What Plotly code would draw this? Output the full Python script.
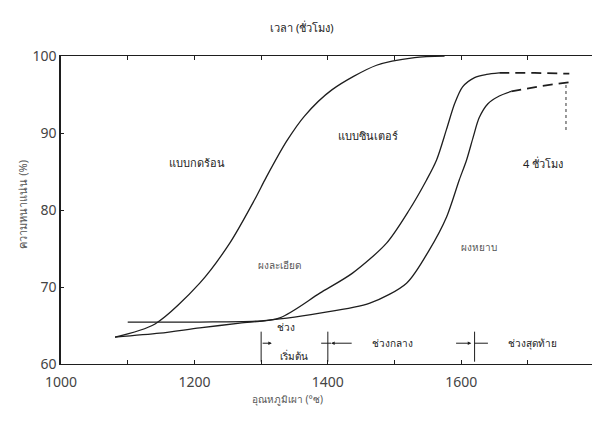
import plotly.graph_objects as go

# ---- data ----
hot_x = [1081, 1141, 1208, 1253, 1290, 1308, 1338, 1365, 1406, 1473, 1530, 1575]
hot_y = [63.5, 65.2, 70.5, 75.7, 81.3, 84.3, 88.9, 92.2, 95.6, 98.8, 99.8, 100.0]

fine_x = [1081, 1148, 1208, 1268, 1328, 1388, 1437, 1488, 1522, 1548, 1563, 1578, 1590, 1602, 1620, 1638, 1657]
fine_y = [63.5, 64.0, 64.7, 65.3, 66.0, 69.2, 71.8, 75.7, 80.0, 83.9, 86.5, 90.5, 93.8, 96.0, 97.2, 97.6, 97.8]
fine_dash_x = [1657, 1710, 1762]
fine_dash_y = [97.8, 97.8, 97.7]

coarse_x = [1100, 1208, 1300, 1388, 1463, 1518, 1552, 1578, 1597, 1608, 1618, 1627, 1640, 1657, 1675]
coarse_y = [65.45, 65.45, 65.6, 66.6, 67.9, 70.5, 74.8, 79.1, 83.9, 86.5, 89.5, 92.0, 93.8, 94.8, 95.4]
coarse_dash_x = [1675, 1720, 1762]
coarse_dash_y = [95.4, 96.1, 96.6]

hours4_x = [1757, 1757]
hours4_y = [90.4, 96.4]

stage_bounds = [1300, 1400, 1620]

x_tickvals = [1000, 1100, 1200, 1300, 1400, 1500, 1600, 1700]
x_ticktext = ["1000", "", "1200", "", "1400", "", "1600", ""]
y_tickvals = [60, 70, 80, 90, 100]
y_ticktext = ["60", "70", "80", "90", "100"]

LINE = "#1e1e1e"
FONT = "Noto Sans, DejaVu Sans, sans-serif"

fig = go.Figure()
fig.add_trace(go.Scatter(x=hot_x, y=hot_y, mode="lines", line=dict(color=LINE, width=1.3, shape="spline", smoothing=0.8)))
fig.add_trace(go.Scatter(x=fine_x, y=fine_y, mode="lines", line=dict(color=LINE, width=1.3, shape="spline", smoothing=0.8)))
fig.add_trace(go.Scatter(x=fine_dash_x, y=fine_dash_y, mode="lines", line=dict(color=LINE, width=1.7, dash="10px,6px")))
fig.add_trace(go.Scatter(x=coarse_x, y=coarse_y, mode="lines", line=dict(color=LINE, width=1.3, shape="spline", smoothing=0.8)))
fig.add_trace(go.Scatter(x=coarse_dash_x, y=coarse_dash_y, mode="lines", line=dict(color=LINE, width=1.7, dash="10px,6px")))
fig.add_trace(go.Scatter(x=hours4_x, y=hours4_y, mode="lines", line=dict(color="#555", width=1.2, dash="dot")))

# stage boundary markers
for b in stage_bounds:
    fig.add_shape(type="line", x0=b, x1=b, y0=60.3, y1=64.2, xref="x", yref="y",
                  line=dict(color=LINE, width=1))

def arrow(x_tip, x_tail, y=62.7):
    fig.add_annotation(x=x_tip, y=y, ax=x_tail, ay=y, xref="x", yref="y", axref="x", ayref="y",
                       showarrow=True, arrowhead=2, arrowsize=0.7, arrowwidth=1,
                       arrowcolor=LINE, text="")

arrow(1316, 1300)
arrow(1405, 1438)
fig.add_shape(type="line", x0=1390, x1=1405, y0=62.7, y1=62.7, line=dict(color=LINE, width=1))
arrow(1615, 1590)
fig.add_shape(type="line", x0=1620, x1=1640, y0=62.7, y1=62.7, line=dict(color=LINE, width=1))

def label(x, y, t, size=11, color="#222"):
    fig.add_annotation(x=x, y=y, xref="x", yref="y", text=t, showarrow=False,
                       font=dict(family=FONT, size=size, color=color))

label(1204, 86.2, "แบบกดร้อน")
label(1460, 89.7, "แบบซินเตอร์")
label(1328, 72.9, "ผงละเอียด", size=10, color="#555")
label(1627, 75.2, "ผงหยาบ", size=10, color="#555")
label(1722, 86.1, "4 ชั่วโมง")
label(1338, 64.8, "ช่วง", size=10)
label(1349, 61.0, "เริ่มต้น", size=10)
label(1497, 62.7, "ช่วงกลาง", size=10)
label(1707, 62.7, "ช่วงสุดท้าย", size=10)

# axis titles
fig.add_annotation(x=0.427, y=-0.143, xref="paper", yref="paper", text="อุณหภูมิเผา (°ซ)",
                   showarrow=False, font=dict(family=FONT, size=10, color="#555"))
fig.add_annotation(x=-0.09, y=0.52, xref="paper", yref="paper", text="ความหนาแน่น (%)",
                   textangle=-90, showarrow=False, font=dict(family=FONT, size=11, color="#555"))

fig.update_layout(
    width=592, height=423,
    margin=dict(l=61, r=0, t=56, b=59),
    paper_bgcolor="white", plot_bgcolor="white",
    showlegend=False,
    font=dict(family=FONT, color="#333"),
    title=dict(text="เวลา (ชั่วโมง)", x=0.51, xanchor="center", y=0.934, yanchor="middle",
               font=dict(family=FONT, size=11, color="#222")),
)
fig.update_xaxes(range=[1000, 1796], tickvals=x_tickvals, ticktext=x_ticktext, automargin=False,
                 ticks="inside", ticklen=4, tickcolor=LINE, showgrid=False, zeroline=False,
                 showline=True, linecolor=LINE, linewidth=1.2, mirror="ticks",
                 ticklabelstandoff=5,
                 tickfont=dict(size=14, color="#444"))
fig.update_yaxes(range=[60, 100], tickvals=y_tickvals, ticktext=y_ticktext, automargin=False,
                 ticks="inside", ticklen=3, tickcolor=LINE, showgrid=False, zeroline=False,
                 showline=True, linecolor=LINE, linewidth=1.5,
                 tickfont=dict(size=14, color="#444"))

fig.write_html("out.html", config={"displayModeBar": False},
               post_script="document.body.style.margin='0px';")
